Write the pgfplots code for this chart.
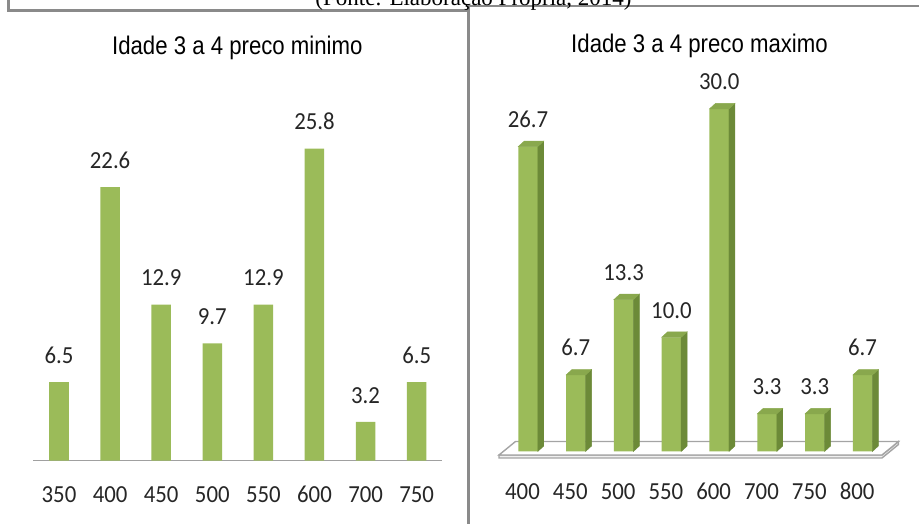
\documentclass[border=0pt]{standalone}
\usepackage{fontspec}
\setmainfont{Carlito}
\newfontfamily\lblfamily[FakeStretch=0.93]{Carlito}
\newfontfamily\titlefont[FakeStretch=0.87]{Liberation Sans}
\newfontfamily\capfont{Liberation Serif}
\usepackage{pgfplots}
\usepackage{pgfplotstable}
\pgfplotsset{compat=1.18}

\definecolor{barfront}{HTML}{9BBB59}
\definecolor{barside}{HTML}{6C8A38}
\definecolor{bartop}{HTML}{89A84D}
\definecolor{framegray}{HTML}{8A8A8A}
\definecolor{axisgray}{HTML}{A0A0A0}
\definecolor{floorgray}{HTML}{A4A4A4}

% an empty mark: the 3-D faces are drawn by the scatter code instead
\pgfdeclareplotmark{blank}{}

% Idade 3 a 4, preco minimo (%)
\pgfplotstableread{
cat v
0 6.5
1 22.6
2 12.9
3 9.7
4 12.9
5 25.8
6 3.2
7 6.5
}\minimo

% Idade 3 a 4, preco maximo (%)
\pgfplotstableread{
cat v
0 26.7
1 6.7
2 13.3
3 10.0
4 30.0
5 3.3
6 3.3
7 6.7
}\maximo

\newcommand\lblfont{\lblfamily\fontsize{24.5bp}{28bp}\selectfont}
\newcommand\ttlfont{\titlefont\fontsize{25.5bp}{30bp}\selectfont}

\begin{document}
\begin{tikzpicture}
\begin{scope}[x=1bp,y=1bp]
  % panel frames
  \draw[framegray, line width=2.5bp] (8.3,530) -- (8.3,513.5) -- (468.3,513.5);
  \draw[framegray, line width=2.5bp] (468.3,-5) -- (468.3,518) -- (925,518);
  \node[font=\capfont\fontsize{23bp}{27bp}\selectfont, anchor=base, inner sep=0pt]
    at (473.5,518.5) {(Fonte: Elaboração Própria, 2014)};
  % titles
  \node[font=\ttlfont, anchor=base, inner sep=0pt] at (237.3,469) {Idade 3 a 4 preco minimo};
  \node[font=\ttlfont, anchor=base, inner sep=0pt] at (699.5,471) {Idade 3 a 4 preco maximo};
  % floor of the 3-D chart
  \filldraw[floorgray, fill=gray!12, line width=1.4bp]
    (499,69) -- (499,66) -- (882,66) -- (898.5,79.5) -- (898.5,82.5) -- (882,69) -- cycle;
  \filldraw[floorgray, fill=white, line width=1.4bp]
    (499,69) -- (882,69) -- (898.5,82.5) -- (515.5,82.5) -- cycle;
\end{scope}

% flat bar chart: preco minimo
\begin{axis}[
  at={(33.45bp,63.3bp)}, anchor=south west,
  x=51.1bp, y=12.1bp,
  xmin=-0.5, xmax=7.5, ymin=0, ymax=28,
  clip=false,
  axis x line*=bottom, axis y line=none,
  x axis line style={draw=axisgray, line width=1.3bp},
  xtick={0,...,7},
  xticklabels={350,400,450,500,550,600,700,750},
  xtick style={draw=none}, ytick=\empty,
  xticklabel style={anchor=base, yshift=-42bp, inner sep=0pt, font=\lblfont, text=black!85},
  /pgf/number format/assume math mode=true,
]
\addplot[ybar, bar width=19.5bp, fill=barfront, draw=none,
  nodes near coords={\pgfmathprintnumber[fixed,fixed zerofill,precision=1]{\pgfplotspointmeta}},
  every node near coord/.append style={anchor=south, inner sep=0pt, yshift=18.3bp, font=\lblfont, text=black!85},
] table[x=cat, y=v] {\minimo};
\end{axis}

% 3-D bar chart: preco maximo
\begin{axis}[
  at={(480.2bp,72.5bp)}, anchor=south west,
  x=47.8bp, y=11.42bp,
  xmin=-1, xmax=8, ymin=0, ymax=31,
  clip=false,
  axis line style={draw=none},
  xtick={0,...,7},
  xticklabels={400,450,500,550,600,700,750,800},
  xtick style={draw=none}, ytick=\empty,
  xticklabel style={anchor=base, yshift=-47.9bp, xshift=-5.5bp, inner sep=0pt, font=\lblfont, text=black!85},
  /pgf/number format/assume math mode=true,
]
% front faces
\addplot[ybar, bar width=19.5bp, fill=barfront, draw=none,
  nodes near coords={\pgfmathprintnumber[fixed,fixed zerofill,precision=1]{\pgfplotspointmeta}},
  every node near coord/.append style={anchor=south, inner sep=0pt, yshift=18.6bp, font=\lblfont, text=black!85},
] table[x=cat, y=v] {\maximo};
% side and top faces, drawn from each bar top
\addplot[scatter, only marks, mark=blank,
  visualization depends on={rawy \as \barval},
  scatter/@pre marker code/.code={%
    \pgfmathsetmacro\hlow{-\barval*11.42}%
    \pgfmathsetmacro\hback{5.5-\barval*11.42}%
    \fill[barside] (9.75bp,0bp) -- (15.75bp,5.5bp) -- (15.75bp,\hback bp) -- (9.75bp,\hlow bp) -- cycle;
    \fill[bartop] (-9.75bp,0bp) -- (9.75bp,0bp) -- (15.75bp,5.5bp) -- (-3.75bp,5.5bp) -- cycle;
  },
  scatter/@post marker code/.code={},
] table[x=cat, y=v] {\maximo};
\end{axis}

\pgfresetboundingbox
\path[use as bounding box] (0,0) rectangle (919bp,524bp);
\end{tikzpicture}
\end{document}
